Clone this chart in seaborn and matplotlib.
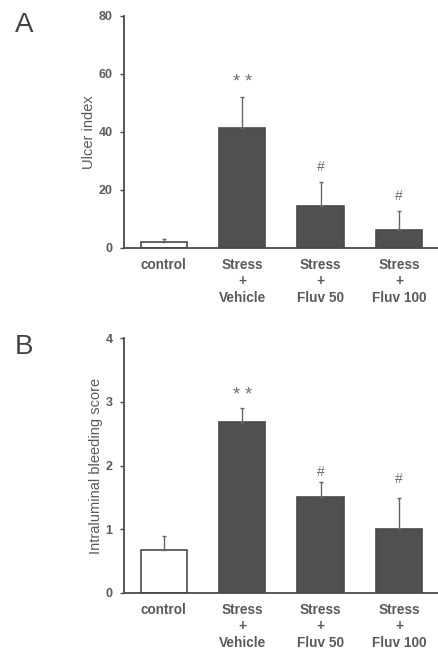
import numpy as np
import pandas as pd
import seaborn as sns
import matplotlib
matplotlib.use("Agg")
import matplotlib.pyplot as plt

# Данные
groups = ["control", "Stress\n+\nVehicle", "Stress\n+\nFluv 50", "Stress\n+\nFluv 100"]
ulcer_mean = [2.0, 41.5, 14.5, 6.2]
ulcer_err = [1.0, 10.5, 8.3, 6.6]
bleed_mean = [0.67, 2.68, 1.50, 1.00]
bleed_err = [0.23, 0.22, 0.24, 0.49]
ulcer_marks = ["", "* *", "#", "#"]
ulcer_mark_y = [0, 57, 28, 18]
bleed_marks = ["", "* *", "#", "#"]
bleed_mark_y = [0, 3.1, 1.9, 1.79]

INK = "#4a4a4a"
BAR = "#505050"
TXT = "#5a5a5a"

sns.set_theme(style="white")
plt.rcParams["font.family"] = ["Liberation Sans", "DejaVu Sans"]


def panel(ax, means, errs, marks, mark_y, ylim, yticks, ylabel):
    """
    Один столбчатый график с ошибками и метками значимости
    """
    df = pd.DataFrame({"group": groups, "value": means})
    colors = ["white", BAR, BAR, BAR]
    sns.barplot(data=df, x="group", y="value", hue="group", palette=colors,
                legend=False, width=0.59, edgecolor=INK, linewidth=1.2, ax=ax)
    x = np.arange(len(groups))
    ax.errorbar(x, means, yerr=[np.zeros(len(errs)), errs], fmt="none",
                ecolor="#666666", elinewidth=1.0, capsize=1.5, capthick=1.0, zorder=1)
    for xi, txt, yy in zip(x, marks, mark_y):
        if txt:
            size = 13 if "*" in txt else 10
            ax.text(xi, yy, txt, ha="center", va="center", fontsize=size, color="#707070")

    ax.set_xlim(-0.51, 3.51)
    ax.set_ylim(*ylim)
    ax.set_yticks(yticks)
    ax.set_xlabel("")
    ax.set_ylabel(ylabel, fontsize=10.5, color=TXT, labelpad=2)
    ax.tick_params(axis="y", length=3, width=1, color=INK, labelsize=9,
                   labelcolor=TXT, direction="out", left=True, pad=5)
    ax.tick_params(axis="x", length=0, labelsize=9.8, labelcolor=TXT, pad=7)
    for lbl in ax.get_xticklabels():
        lbl.set_fontweight("bold")
        lbl.set_linespacing(1.25)
    for lbl in ax.get_yticklabels():
        lbl.set_fontweight("bold")
    sns.despine(ax=ax)
    for side in ["left", "bottom"]:
        ax.spines[side].set_color(INK)
        ax.spines[side].set_linewidth(1.3)
    ax.spines["bottom"].set_zorder(5)
    ax.set_facecolor("white")


fig = plt.figure(figsize=(4.39, 6.5), dpi=100)
ax1 = fig.add_axes([0.282, 0.6185, 0.718, 0.357])
ax2 = fig.add_axes([0.282, 0.0877, 0.718, 0.392])

panel(ax1, ulcer_mean, ulcer_err, ulcer_marks, ulcer_mark_y, (0, 80),
      [0, 20, 40, 60, 80], "Ulcer index")
panel(ax2, bleed_mean, bleed_err, bleed_marks, bleed_mark_y, (0, 4),
      [0, 1, 2, 3, 4], "Intraluminal bleeding score")

fig.text(0.055, 0.962, "A", fontsize=20, color="#444444", ha="center", va="center")
fig.text(0.055, 0.466, "B", fontsize=20, color="#444444", ha="center", va="center")

fig.savefig("out.png", dpi=100, facecolor="white")
